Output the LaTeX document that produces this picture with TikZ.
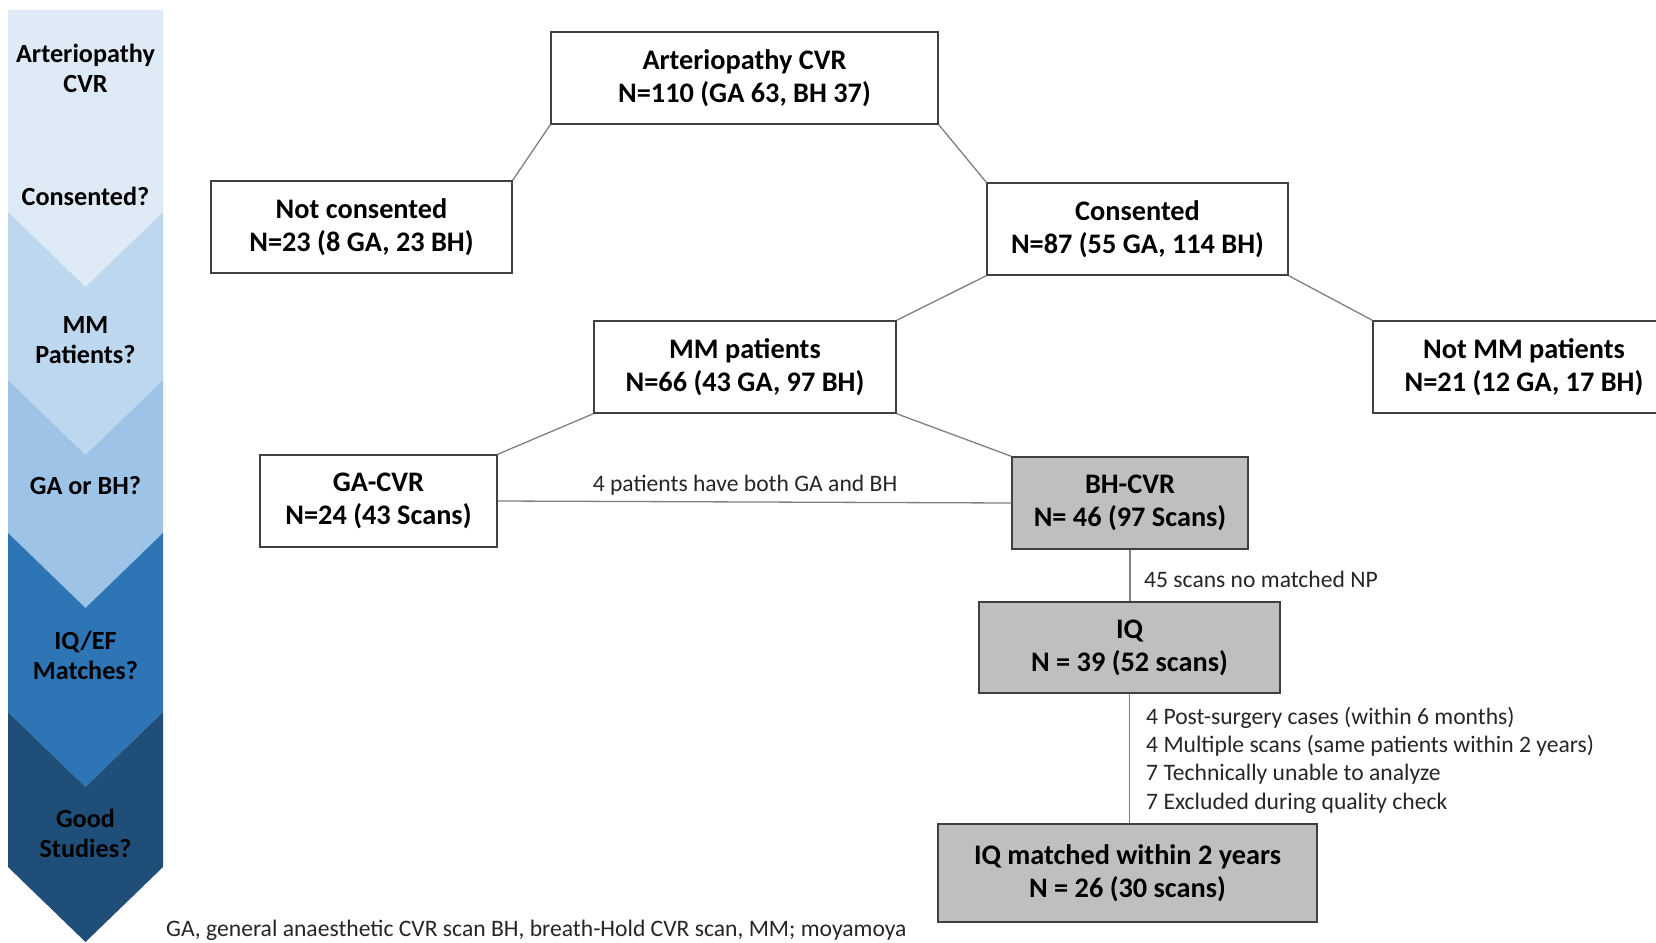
\documentclass[tikz,border=0pt]{standalone}
\usepackage{fontspec}
\setmainfont{Carlito}
\definecolor{segA}{HTML}{DEEBF7}
\definecolor{segB}{HTML}{BDD7EE}
\definecolor{segC}{HTML}{9DC3E6}
\definecolor{segD}{HTML}{2E75B6}
\definecolor{segE}{HTML}{1F4E79}
\definecolor{boxline}{HTML}{404040}
\definecolor{conn}{HTML}{808080}
\definecolor{boxgray}{HTML}{BFBFBF}
\begin{document}
\begin{tikzpicture}[x=1pt,y=-1pt,
  box/.style={draw=boxline, line width=1.5pt, fill=white, inner sep=0pt, align=center,
    font=\fontsize{28.3}{33}\selectfont\bfseries,
    execute at begin node={\rule{0pt}{27pt}}},
  graybox/.style={box, fill=boxgray},
  stage/.style={inner sep=0pt, align=center, font=\fontsize{26.2}{30}\selectfont\bfseries},
  lbl/.style={inner sep=0pt, font=\fontsize{23.6}{28}\selectfont, text=black!85},
  link/.style={draw=conn, line width=1.3pt}]
\clip (0,0) rectangle (1656,942);
\fill[white] (0,0) rectangle (1656,942);

% stage chevrons
\fill[segA] (8,10) -- (163,10) -- (163,212) -- (85.5,287) -- (8,212) -- cycle;
\fill[segB] (8,212) -- (85.5,287) -- (163,212) -- (163,380) -- (85.5,455) -- (8,380) -- cycle;
\fill[segC] (8,380) -- (85.5,455) -- (163,380) -- (163,533) -- (85.5,608) -- (8,533) -- cycle;
\fill[segD] (8,533) -- (85.5,608) -- (163,533) -- (163,712) -- (85.5,787) -- (8,712) -- cycle;
\fill[segE] (8,712) -- (85.5,787) -- (163,712) -- (163,867) -- (85.5,942) -- (8,867) -- cycle;

\node[stage] (s1) at (85.5,68.5) {Arteriopathy\\CVR};
\node[stage] (s2) at (85.5,196) {Consented?};
\node[stage] (s3) at (85.5,340) {MM\\Patients?};
\node[stage] (s4) at (85.5,486) {GA or BH?};
\node[stage] (s5) at (85.5,655) {IQ/EF\\Matches?};
\node[stage] (s6) at (85.5,833) {Good\\Studies?};

% boxes
\node[box, minimum width=387pt, minimum height=92pt] (A) at (744.5,78) {Arteriopathy CVR\\N=110 (GA 63, BH 37)};
\node[box, minimum width=301pt, minimum height=92pt] (NC) at (361.5,227) {Not consented\\N=23 (8 GA, 23 BH)};
\node[box, minimum width=301pt, minimum height=92pt] (C) at (1137.5,229) {Consented\\N=87 (55 GA, 114 BH)};
\node[box, minimum width=302pt, minimum height=92pt] (MM) at (745,367) {MM patients\\N=66 (43 GA, 97 BH)};
\node[box, minimum width=302pt, minimum height=92pt] (NMM) at (1524,367) {Not MM patients\\N=21 (12 GA, 17 BH)};
\node[box, minimum width=237pt, minimum height=92pt] (GA) at (378.5,501) {GA-CVR\\N=24 (43 Scans)};
\node[graybox, minimum width=236pt, minimum height=92pt] (BH) at (1130,503) {BH-CVR\\N= 46 (97 Scans)};
\node[graybox, minimum width=301pt, minimum height=91pt] (IQ) at (1129.5,647.5) {IQ\\N = 39 (52 scans)};
\node[graybox, minimum width=379pt, minimum height=98pt] (IQM) at (1127.5,873) {IQ matched within 2 years\\N = 26 (30 scans)};

% connectors
\draw[link] (A.south west) -- (NC.north east);
\draw[link] (A.south east) -- (C.north west);
\draw[link] (C.south west) -- (MM.north east);
\draw[link] (C.south east) -- (NMM.north west);
\draw[link] (MM.south west) -- (GA.north east);
\draw[link] (MM.south east) -- (BH.north west);
\draw[link] (GA.east) -- (BH.west);
\draw[link] (BH.south) -- (BH.south |- IQ.north);
\draw[link] (IQ.south) -- (IQ.south |- IQM.north);

% labels
\node[lbl] (l1) at (745,485) {4 patients have both GA and BH};
\node[lbl, anchor=west] (l2) at (1144,579) {45 scans no matched NP};
\node[lbl, anchor=west] (l3) at (1146,718) {4 Post-surgery cases (within 6 months)};
\node[lbl, anchor=west] (l4) at (1146,746) {4 Multiple scans (same patients within 2 years)};
\node[lbl, anchor=west] (l5) at (1146,774) {7 Technically unable to analyze};
\node[lbl, anchor=west] (l6) at (1146,803) {7 Excluded during quality check};
\node[lbl, anchor=west] (fn) at (166,930.5) {GA, general anaesthetic CVR scan BH, breath-Hold CVR scan, MM; moyamoya};
\end{tikzpicture}
\end{document}
